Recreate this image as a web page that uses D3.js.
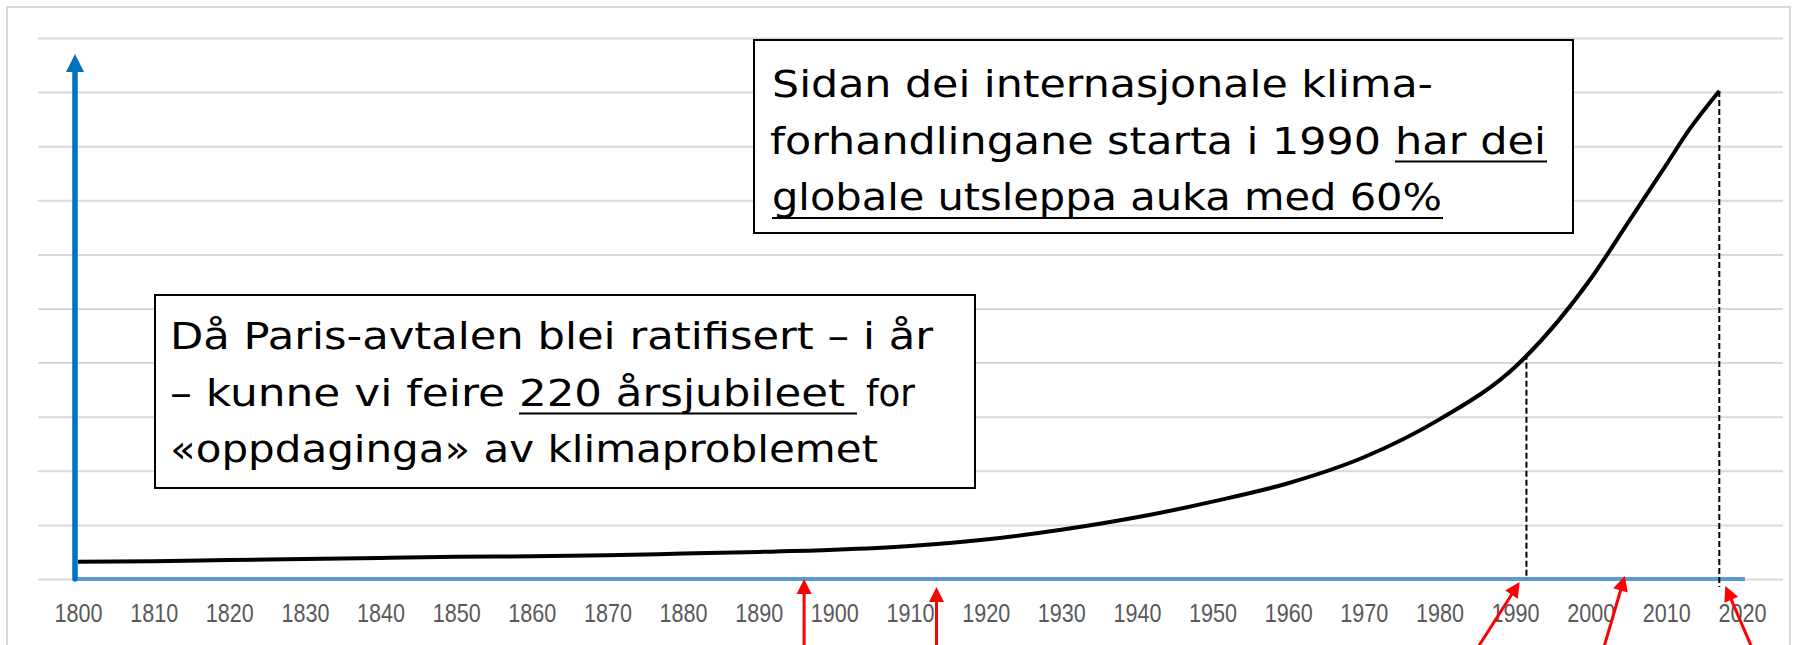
<!DOCTYPE html>
<html>
<head>
<meta charset="utf-8">
<script src="https://cdn.jsdelivr.net/npm/d3@7"></script>
<style>
  html, body { margin: 0; padding: 0; background: #fff; }
  svg { display: block; }
</style>
</head>
<body>
<div id="chart"></div>
<script>
// SVG dimensions
var w = 1793;
var h = 645;

// Data (emissions in grid units, 0-10)
var years = [1800, 1810, 1820, 1830, 1840, 1850, 1860, 1870, 1880, 1890, 1900, 1910,
  1920, 1930, 1940, 1950, 1960, 1970, 1980, 1990, 2000, 2005, 2010, 2013, 2017];
var emissions = [0.32, 0.33, 0.35, 0.37, 0.39, 0.41, 0.42, 0.44, 0.47, 0.50, 0.54, 0.61,
  0.73, 0.91, 1.14, 1.43, 1.77, 2.25, 2.95, 3.92, 5.55, 6.6, 7.66, 8.3, 9.02];
var tickYears = [1800, 1810, 1820, 1830, 1840, 1850, 1860, 1870, 1880, 1890, 1900,
  1910, 1920, 1930, 1940, 1950, 1960, 1970, 1980, 1990, 2000, 2010, 2020];
var gridValues = [0, 1, 2, 3, 4, 5, 6, 7, 8, 9, 10];
var dropYears = [1991.5, 2017];
var arrowYears = [1896, 1913.5, 1990.6, 2004.5, 2017.8];

var data = years.map((y, i) => ({ year: y, value: emissions[i] }));

// Define SVG
var svg = d3.select('#chart')
  .append('svg')
  .attr('width', w)
  .attr('height', h);

// Scales
var xScale = d3.scaleLinear()
  .domain([1800, 2020])
  .range([78, 1742]);

var yScale = d3.scaleLinear()
  .domain([0, 10])
  .range([579, 38]);

// linear lookup between read points
var valueAt = function (year) {
  var i = d3.bisectLeft(years, year);
  if (years[i] === year) return emissions[i];
  var t = (year - years[i - 1]) / (years[i] - years[i - 1]);
  return emissions[i - 1] + t * (emissions[i] - emissions[i - 1]);
};

// Chart area frame
svg.append('rect')
  .attr('x', 7)
  .attr('y', 7)
  .attr('width', 1783)
  .attr('height', 700)
  .attr('fill', 'none')
  .attr('stroke', '#d9d9d9')
  .attr('stroke-width', 2);

// Gridlines
var grid = svg.append('g')
  .attr('transform', 'translate(38, 0)')
  .call(d3.axisLeft(yScale)
    .tickValues(gridValues)
    .tickSize(-(1783 - 38))
    .tickFormat(''));
grid.select('.domain').remove();
grid.selectAll('line')
  .attr('stroke', '#d9d9d9')
  .attr('stroke-width', 2);

// X axis line
svg.append('line')
  .attr('x1', 75)
  .attr('x2', 1745)
  .attr('y1', yScale(0))
  .attr('y2', yScale(0))
  .attr('stroke', '#5b9bd5')
  .attr('stroke-width', 4);

// Tick labels
var xAxisGroup = svg.append('g')
  .attr('transform', `translate(0, ${yScale(0)})`)
  .call(d3.axisBottom(xScale)
    .tickValues(tickYears)
    .tickSize(0)
    .tickFormat(d3.format('d')));
xAxisGroup.select('.domain').remove();
xAxisGroup.selectAll('text')
  .attr('y', 43)
  .attr('dy', null)
  .attr('fill', '#595959')
  .attr('font-family', 'Liberation Sans, Arial, sans-serif')
  .attr('font-size', 25)
  .attr('textLength', 48)
  .attr('lengthAdjust', 'spacingAndGlyphs');

// Dashed drop lines
var dropBottoms = [579, 587];
svg.selectAll('.drop')
  .data(dropYears)
  .enter()
  .append('line')
  .attr('class', 'drop')
  .attr('x1', d => xScale(d))
  .attr('x2', d => xScale(d))
  .attr('y1', d => yScale(valueAt(d)))
  .attr('y2', (d, i) => dropBottoms[i])
  .attr('stroke', '#000')
  .attr('stroke-width', 2)
  .attr('stroke-dasharray', '6,3');

// Emissions curve
var line = d3.line()
  .x(d => xScale(d.year))
  .y(d => yScale(d.value))
  .curve(d3.curveMonotoneX);

svg.append('path')
  .datum(data)
  .attr('d', line)
  .attr('fill', 'none')
  .attr('stroke', '#000')
  .attr('stroke-width', 4);

// Y axis arrow
svg.append('line')
  .attr('x1', 75)
  .attr('x2', 75)
  .attr('y1', yScale(0))
  .attr('y2', 70)
  .attr('stroke', '#0070c0')
  .attr('stroke-width', 5.5)
  .attr('stroke-linecap', 'round');
svg.append('path')
  .attr('d', 'M66,72 L84,72 L75,54 Z')
  .attr('fill', '#0070c0');

// Annotation boxes
var notes = [
  {
    box: [754, 40, 1573, 233],
    lines: [
      { y: 97, segs: [{ t: 'Sidan dei internasjonale klima-', x0: 772, x1: 1433 }] },
      { y: 153.5, segs: [
        { t: 'forhandlingane starta i 1990', x0: 770, x1: 1381 },
        { t: 'har dei', x0: 1395, x1: 1546, u: 1547 }] },
      { y: 210, segs: [{ t: 'globale utsleppa auka med 60%', x0: 772, x1: 1442, u: 1443 }] },
    ],
  },
  {
    box: [155, 295, 975, 488],
    lines: [
      { y: 349, segs: [{ t: 'Då Paris-avtalen blei ratifisert – i år', x0: 170, x1: 933 }] },
      { y: 405.5, segs: [
        { t: '– kunne vi feire', x0: 170, x1: 505 },
        { t: '220 årsjubileet', x0: 519, x1: 845, u: 857 },
        { t: 'for', x0: 866, x1: 915 }] },
      { y: 462, segs: [{ t: '«oppdaginga» av klimaproblemet', x0: 170, x1: 878 }] },
    ],
  },
];

notes.forEach((note) => {
  var g = svg.append('g');
  g.append('rect')
    .attr('x', note.box[0])
    .attr('y', note.box[1])
    .attr('width', note.box[2] - note.box[0])
    .attr('height', note.box[3] - note.box[1])
    .attr('fill', '#fff')
    .attr('stroke', '#000')
    .attr('stroke-width', 2);

  note.lines.forEach((ln) => {
    ln.segs.forEach((s) => {
      g.append('text')
        .attr('x', s.x0)
        .attr('y', ln.y)
        .attr('font-family', 'DejaVu Sans, sans-serif')
        .attr('font-size', 38)
        .attr('fill', '#000')
        .attr('textLength', s.x1 - s.x0)
        .attr('lengthAdjust', 'spacingAndGlyphs')
        .text(s.t);
      // underline runs to s.u (may include a trailing space)
      if (s.u) {
        g.append('line')
          .attr('x1', s.x0)
          .attr('x2', s.u)
          .attr('y1', ln.y + 8)
          .attr('y2', ln.y + 8)
          .attr('stroke', '#000')
          .attr('stroke-width', 2);
      }
    });
  });
});

// Red arrows pointing at years from below
var arrowLayout = [
  { tipY: 579, dx: 0 },
  { tipY: 587, dx: 0 },
  { tipY: 582, dx: -53 },
  { tipY: 576, dx: -26 },
  { tipY: 586, dx: 34 },
];

arrowYears.forEach((yr, i) => {
  var tx = xScale(yr);
  var ty = arrowLayout[i].tipY;
  var bx = tx + arrowLayout[i].dx;
  var by = 665;
  var len = Math.hypot(bx - tx, by - ty);
  var ux = (bx - tx) / len;
  var uy = (by - ty) / len;
  var headL = 15;
  var headW = 7.5;
  var cx = tx + ux * headL;
  var cy = ty + uy * headL;

  svg.append('line')
    .attr('x1', bx)
    .attr('y1', by)
    .attr('x2', cx - ux * 2)
    .attr('y2', cy - uy * 2)
    .attr('stroke', '#ff0000')
    .attr('stroke-width', 3);

  svg.append('path')
    .attr('d', `M${tx},${ty} L${cx - uy * headW},${cy + ux * headW} L${cx + uy * headW},${cy - ux * headW} Z`)
    .attr('fill', '#ff0000');
});
</script>
</body>
</html>
